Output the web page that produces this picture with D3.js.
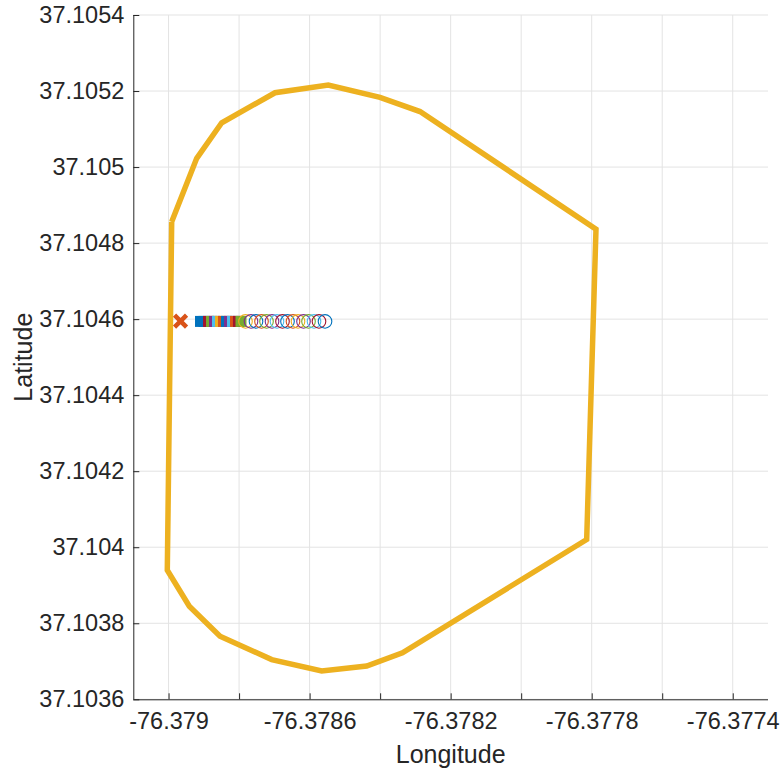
<!DOCTYPE html>
<html>
<head>
<meta charset="utf-8">
<script src="https://cdn.jsdelivr.net/npm/d3@7"></script>
<style>
  html, body { margin: 0; padding: 0; background: #fff; }
  svg { display: block; font-family: "Liberation Sans", Arial, sans-serif; }
</style>
</head>
<body>
<svg id="chart" width="781" height="770"></svg>
<script>
// ---- data ----
const boundaryLon = [-76.3789911, -76.3789202, -76.3788493, -76.3786981, -76.3785470, -76.3784004,
  -76.3782869, -76.3777878, -76.3778142, -76.3783366, -76.3784381, -76.3785657,
  -76.3787075, -76.3788541, -76.3789412, -76.3790036, -76.3789911];
const boundaryLat = [37.1048560, 37.1050229, 37.1051166, 37.1051955, 37.1052158, 37.1051834,
  37.1051460, 37.1048368, 37.1040203, 37.1037224, 37.1036876, 37.1036745,
  37.1037045, 37.1037658, 37.1038447, 37.1039395, 37.1048560];

const startLon = [-76.378966];
const startLat = [37.104595];

const squareLon = [-76.3789094, -76.3788995, -76.3788867, -76.3788782, -76.3788697, -76.3788612,
  -76.3788527, -76.3788442, -76.3788357, -76.3788272, -76.3788187, -76.3788102,
  -76.3788017, -76.3787946];
const squareLat = [37.104594, 37.104594, 37.104594, 37.104594, 37.104594, 37.104594, 37.104594,
  37.104594, 37.104594, 37.104594, 37.104594, 37.104594, 37.104594, 37.104594];
const squareColor = ["#0072BD", "#0072BD", "#A2142F", "#77AC30", "#7E2F8E", "#4DBEEE", "#EDB120",
  "#D95319", "#0072BD", "#7E2F8E", "#4DBEEE", "#D95319", "#A2142F", "#77AC30"];

const circleLon = [-76.3787818, -76.3787662, -76.3787520, -76.3787364, -76.3787222, -76.3787066,
  -76.3786925, -76.3786769, -76.3786627, -76.3786471, -76.3786329, -76.3786173,
  -76.3786031, -76.3785875, -76.3785734, -76.3785563];
const circleLat = [37.104594, 37.104594, 37.104594, 37.104594, 37.104594, 37.104594, 37.104594, 37.104594,
  37.104594, 37.104594, 37.104594, 37.104594, 37.104594, 37.104594, 37.104594, 37.104594];
const circleColor = ["#EDB120", "#7E2F8E", "#0072BD", "#D95319", "#77AC30", "#7E2F8E", "#4DBEEE", "#A2142F",
  "#0072BD", "#D95319", "#EDB120", "#7E2F8E", "#77AC30", "#4DBEEE", "#A2142F", "#0072BD"];

const xTicks = [-76.379, -76.3788, -76.3786, -76.3784, -76.3782, -76.378, -76.3778, -76.3776, -76.3774];
const xTickLabels = ["-76.379", "", "-76.3786", "", "-76.3782", "", "-76.3778", "", "-76.3774"];
const yTicks = [37.1036, 37.1038, 37.104, 37.1042, 37.1044, 37.1046, 37.1048, 37.105, 37.1052, 37.1054];
const yTickLabels = ["37.1036", "37.1038", "37.104", "37.1042", "37.1044", "37.1046", "37.1048", "37.105", "37.1052", "37.1054"];
const xDomain = [-76.3791, -76.3773];
const yDomain = [37.1036, 37.1054];

// ---- layout ----
const L = 133.3, R = 768, T = 15, B = 699.3;
const svg = d3.select("#chart");
const x = d3.scaleLinear().domain(xDomain).range([L, R]);
const y = d3.scaleLinear().domain(yDomain).range([B, T]);
const axisColor = "#262626";

// grid
const grid = svg.append("g");
grid.selectAll("line.vx").data(xTicks).enter().append("line")
  .attr("x1", d => x(d)).attr("x2", d => x(d)).attr("y1", T).attr("y2", B)
  .attr("stroke", "#e3e3e3").attr("stroke-width", 1);
grid.selectAll("line.hy").data(yTicks).enter().append("line")
  .attr("x1", L).attr("x2", R).attr("y1", d => y(d)).attr("y2", d => y(d))
  .attr("stroke", "#e3e3e3").attr("stroke-width", 1);

// axes
const xAxis = d3.axisBottom(x).tickValues(xTicks)
  .tickFormat((d, i) => xTickLabels[i]).tickSizeInner(-6).tickSizeOuter(0).tickPadding(13);
const yAxis = d3.axisLeft(y).tickValues(yTicks)
  .tickFormat((d, i) => yTickLabels[i]).tickSizeInner(-6).tickSizeOuter(0).tickPadding(9);

const gx = svg.append("g").attr("transform", `translate(0,${B})`).call(xAxis);
const gy = svg.append("g").attr("transform", `translate(${L},0)`).call(yAxis);
[gx, gy].forEach(g => {
  g.select(".domain").attr("stroke", axisColor).attr("stroke-width", 1);
  g.selectAll(".tick line").attr("stroke", axisColor).attr("stroke-width", 1);
  g.selectAll(".tick text").attr("fill", axisColor)
    .style("font-family", "'Liberation Sans', Arial, sans-serif").style("font-size", "23.5px");
});
gx.select(".domain").attr("d", `M${L},0.5H${R}`);
gy.select(".domain").attr("d", `M0.5,${B}V${T}`);

// axis labels
svg.append("text").attr("x", (L + R) / 2).attr("y", 763).attr("text-anchor", "middle")
  .attr("fill", axisColor).style("font-size", "25px").text("Longitude");
svg.append("text").attr("transform", `translate(32,${(T + B) / 2}) rotate(-90)`)
  .attr("text-anchor", "middle").attr("fill", axisColor).style("font-size", "25px").text("Latitude");

// boundary polygon
const line = d3.line().x(d => x(d[0])).y(d => y(d[1]));
svg.append("path")
  .datum(boundaryLon.map((v, i) => [v, boundaryLat[i]]))
  .attr("d", line).attr("fill", "none").attr("stroke", "#EDB120")
  .attr("stroke-width", 5.5).attr("stroke-linejoin", "miter");

// start marker (x)
const sx = x(startLon[0]), sy = y(startLat[0]);
svg.append("path")
  .attr("d", `M${sx - 6},${sy - 6}L${sx + 6},${sy + 6}M${sx - 6},${sy + 6}L${sx + 6},${sy - 6}`)
  .attr("stroke", "#D95319").attr("stroke-width", 4.5).attr("fill", "none");

// squares
const sq = 11;
svg.append("g").selectAll("rect").data(squareLon).enter().append("rect")
  .attr("x", d => x(d) - sq / 2).attr("y", (d, i) => y(squareLat[i]) - sq / 2)
  .attr("width", sq).attr("height", sq)
  .attr("fill", (d, i) => squareColor[i]);

// circles
svg.append("g").selectAll("circle").data(circleLon).enter().append("circle")
  .attr("cx", d => x(d)).attr("cy", (d, i) => y(circleLat[i])).attr("r", 6.8)
  .attr("fill", "none").attr("stroke", (d, i) => circleColor[i]).attr("stroke-width", 1.1);
</script>
</body>
</html>
